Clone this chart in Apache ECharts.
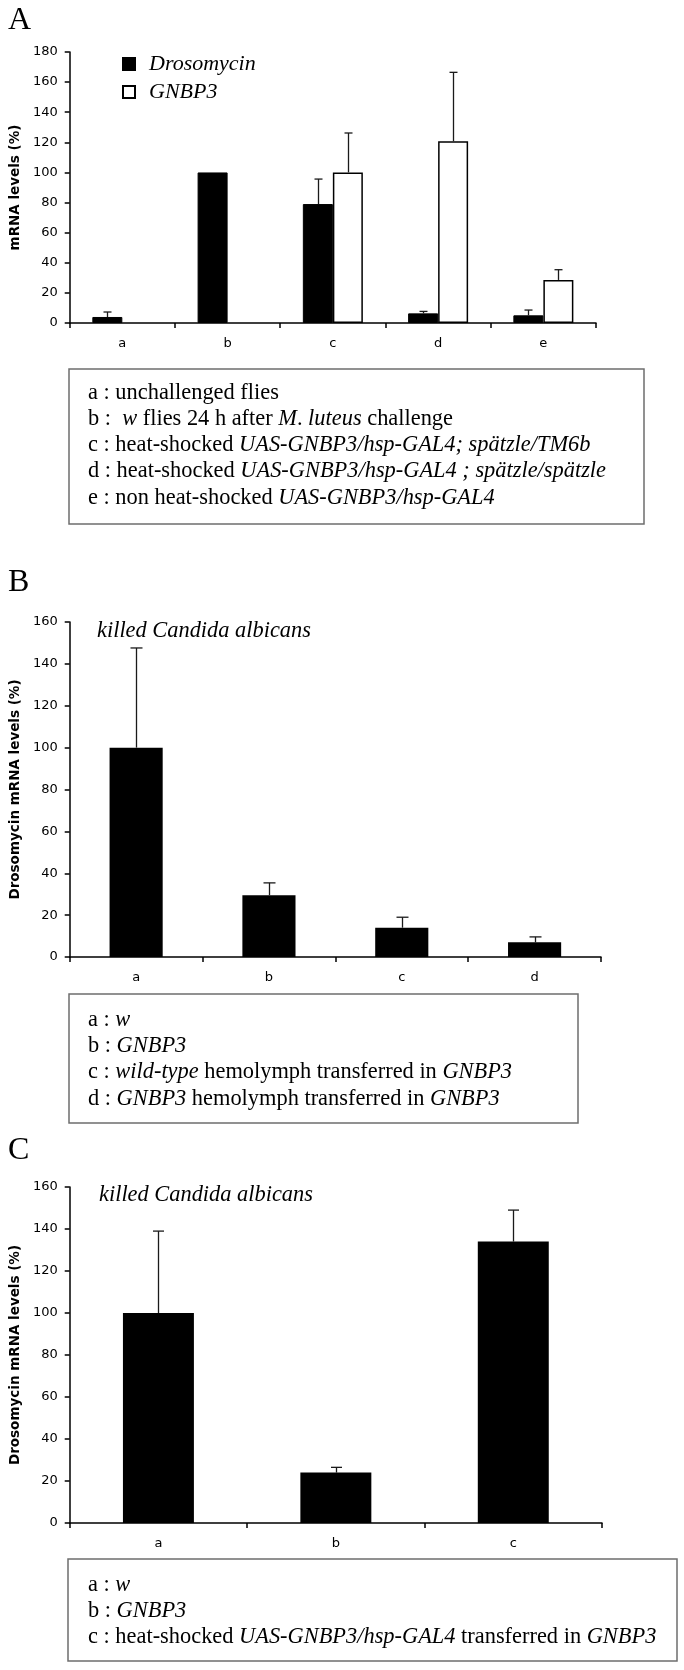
<!DOCTYPE html>
<html>
<head>
<meta charset="utf-8">
<script src="https://cdn.jsdelivr.net/npm/echarts@6/dist/echarts.min.js"></script>
<style>
html,body{margin:0;padding:0;background:#fff;}
#chart{width:684px;height:1670px;}
</style>
</head>
<body>
<div id="chart"></div>
<script>
// ---------- DATA ----------
const catsA = ['a', 'b', 'c', 'd', 'e'];
const drosA = [4, 100, 79, 6.4, 5.1];
const drosErrA = [7.3, null, 95.6, 7.7, 8.6];
const gnbpA = [null, null, 100, 120.7, 28.6];
const gnbpErrA = [null, null, 126.2, 166.5, 35.4];

const catsB = ['a', 'b', 'c', 'd'];
const drosB = [100, 29.5, 14, 7];
const drosErrB = [147.6, 35.4, 19, 9.6];

const catsC = ['a', 'b', 'c'];
const drosC = [100, 24, 134];
const drosErrC = [139, 26.5, 149];

const yMaxA = 180, yMaxB = 160, yMaxC = 160, yStep = 20;

const seriesNames = ['Drosomycin', 'GNBP3'];
const yNameA = 'mRNA levels (%)';
const yNameBC = 'Drosomycin mRNA levels (%)';
const subtitleBC = 'killed Candida albicans';

// legend box lines: [text, italic?] segments
const boxA = [
  [['a : unchallenged flies', 0]],
  [['b :  ', 0], ['w', 1], [' flies 24 h after ', 0], ['M', 1], ['. ', 0], ['luteus', 1], [' challenge', 0]],
  [['c : heat-shocked ', 0], ['UAS-GNBP3/hsp-GAL4; spätzle/TM6b', 1]],
  [['d : heat-shocked ', 0], ['UAS-GNBP3/hsp-GAL4 ; spätzle/spätzle', 1]],
  [['e : non heat-shocked ', 0], ['UAS-GNBP3/hsp-GAL4', 1]]
];
const boxB = [
  [['a : ', 0], ['w', 1]],
  [['b : ', 0], ['GNBP3', 1]],
  [['c : ', 0], ['wild-type', 1], [' hemolymph transferred in ', 0], ['GNBP3', 1]],
  [['d : ', 0], ['GNBP3', 1], [' hemolymph transferred in ', 0], ['GNBP3', 1]]
];
const boxC = [
  [['a : ', 0], ['w', 1]],
  [['b : ', 0], ['GNBP3', 1]],
  [['c : heat-shocked ', 0], ['UAS-GNBP3/hsp-GAL4', 1], [' transferred in ', 0], ['GNBP3', 1]]
];

// ---------- STYLE / LAYOUT ----------
const SANS = "'DejaVu Sans', Verdana, sans-serif";
const SERIF = "'Liberation Serif', 'Times New Roman', serif";
const BOXFONT = 22.4;

const grids = [
  { left: 68, top: 52, width: 528, height: 271 },
  { left: 67, top: 622, width: 534, height: 335 },
  { left: 66, top: 1187, width: 536, height: 336 }
];

function xAxis(gi, cats) {
  return {
    type: 'category', gridIndex: gi, data: cats, boundaryGap: true,
    axisLine: { lineStyle: { color: '#000', width: 1.5 } },
    axisTick: { show: true, length: 5, lineStyle: { color: '#000', width: 1.5 } },
    axisLabel: { color: '#000', fontFamily: SANS, fontSize: 13, margin: 14 }
  };
}
function yAxis(gi, max, name) {
  return {
    type: 'value', gridIndex: gi, min: 0, max: max, interval: yStep,
    name: name, nameLocation: 'middle', nameRotate: 90, nameGap: 45,
    nameTextStyle: { color: '#000', fontFamily: SANS, fontWeight: 'bold', fontSize: 13.5 },
    axisLine: { show: true, lineStyle: { color: '#000', width: 1.5 } },
    axisTick: { show: true, inside: false, length: 5, lineStyle: { color: '#000', width: 1.5 } },
    axisLabel: { color: '#000', fontFamily: SANS, fontSize: 13, margin: 12 },
    splitLine: { show: false }
  };
}

function errSeries(gi, values, errs, offset, cap) {
  const data = [];
  values.forEach(function (v, i) {
    if (v != null && errs[i] != null) data.push([i, v, errs[i]]);
  });
  return {
    type: 'custom', xAxisIndex: gi, yAxisIndex: gi, z: 5, silent: true,
    data: data,
    encode: { x: 0, y: [1, 2] },
    renderItem: function (params, api) {
      const p0 = api.coord([api.value(0), api.value(1)]);
      const p1 = api.coord([api.value(0), api.value(2)]);
      const cx = Math.round(p0[0] + offset) + 0.5;
      const st = { stroke: '#1a1a1a', lineWidth: 1.3 };
      return {
        type: 'group', children: [
          { type: 'line', shape: { x1: cx, y1: p0[1], x2: cx, y2: p1[1] }, style: st },
          { type: 'line', shape: { x1: cx - cap / 2, y1: p1[1], x2: cx + cap / 2, y2: p1[1] }, style: st }
        ]
      };
    }
  };
}

function boxGraphic(lines, x, firstY, lineH) {
  const out = [];
  lines.forEach(function (segs, li) {
    let txt = '';
    segs.forEach(function (s) {
      const safe = s[0].replace(/[{}|]/g, '');
      txt += '{' + (s[1] ? 'i' : 'r') + '|' + safe + '}';
    });
    out.push({
      type: 'text', x: x, y: firstY + li * lineH,
      style: {
        text: txt, verticalAlign: 'middle', align: 'left',
        rich: {
          r: { fontFamily: SERIF, fontSize: BOXFONT, fill: '#000', fontStyle: 'normal' },
          i: { fontFamily: SERIF, fontSize: BOXFONT, fill: '#000', fontStyle: 'italic' }
        }
      }
    });
  });
  return out;
}
function rectG(x1, y1, x2, y2) {
  return { type: 'rect', shape: { x: x1, y: y1, width: x2 - x1, height: y2 - y1 },
    style: { fill: 'none', stroke: '#6e6e6e', lineWidth: 1.5 } };
}
function panelLetter(t, y) {
  return { type: 'text', x: 8, y: y, style: { text: t, fontFamily: SERIF, fontSize: 32, fill: '#000', verticalAlign: 'middle' } };
}
function subtitle(x, y) {
  return { type: 'text', x: x, y: y, style: { text: subtitleBC, fontFamily: SERIF, fontStyle: 'italic', fontSize: 22.4, fill: '#000', verticalAlign: 'middle' } };
}

const chart = echarts.init(document.getElementById('chart'), null, { renderer: 'canvas' });

const option = {
  backgroundColor: '#fff',
  animation: false,
  grid: grids,
  xAxis: [xAxis(0, catsA), xAxis(1, catsB), xAxis(2, catsC)],
  yAxis: [yAxis(0, yMaxA, yNameA), yAxis(1, yMaxB, yNameBC), yAxis(2, yMaxC, yNameBC)],
  legend: {
    orient: 'vertical', left: 117, top: 48, itemWidth: 12, itemHeight: 12, itemGap: 6,
    icon: 'rect',
    data: seriesNames,
    textStyle: { fontFamily: SERIF, fontStyle: 'italic', fontSize: 22, color: '#000', padding: [0, 0, 0, 9] },
    selectedMode: false
  },
  series: [
    { name: seriesNames[0], type: 'bar', xAxisIndex: 0, yAxisIndex: 0, data: drosA,
      barWidth: 30, barGap: '0%', itemStyle: { color: '#000', borderColor: '#000', borderWidth: 1 } },
    { name: seriesNames[1], type: 'bar', xAxisIndex: 0, yAxisIndex: 0, data: gnbpA,
      barWidth: 30, barGap: '0%', itemStyle: { color: '#fff', borderColor: '#000', borderWidth: 1.5 } },
    errSeries(0, drosA, drosErrA, -15, 8),
    errSeries(0, gnbpA, gnbpErrA, 15, 8),
    { name: 'B', type: 'bar', xAxisIndex: 1, yAxisIndex: 1, data: drosB,
      barWidth: '40%', itemStyle: { color: '#000' } },
    errSeries(1, drosB, drosErrB, 0, 12),
    { name: 'C', type: 'bar', xAxisIndex: 2, yAxisIndex: 2, data: drosC,
      barWidth: '40%', itemStyle: { color: '#000' } },
    errSeries(2, drosC, drosErrC, 0, 11)
  ],
  graphic: [].concat(
    [panelLetter('A', 21), panelLetter('B', 583), panelLetter('C', 1151)],
    [subtitle(97, 631), subtitle(99, 1195)],
    [rectG(69, 369, 644, 524), rectG(69, 994, 578, 1123), rectG(68, 1559, 677, 1661)],
    boxGraphic(boxA, 88, 393, 26.2),
    boxGraphic(boxB, 88, 1020, 26.3),
    boxGraphic(boxC, 88, 1585, 26)
  )
};
chart.setOption(option);
</script>
</body>
</html>
